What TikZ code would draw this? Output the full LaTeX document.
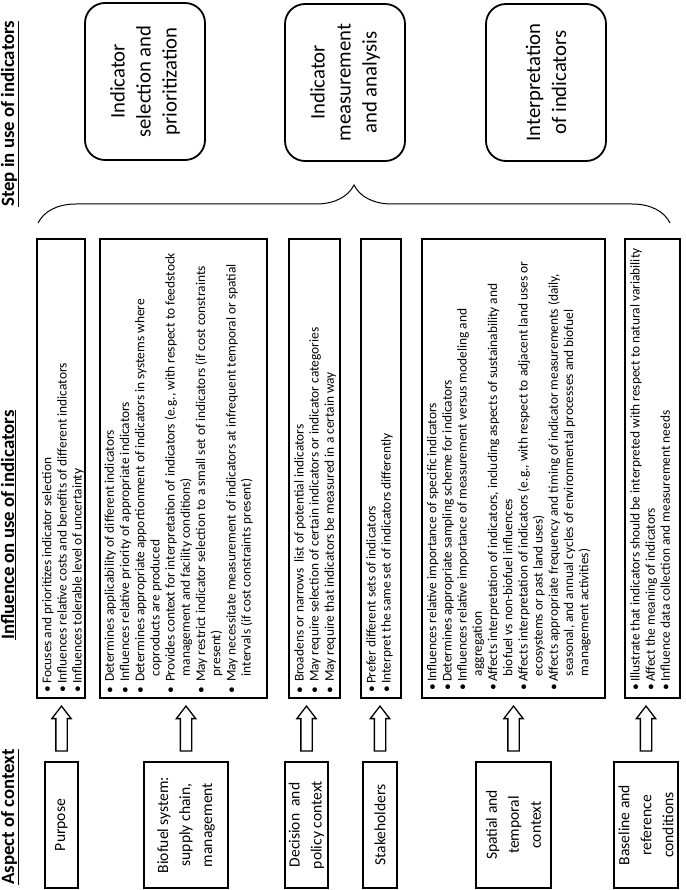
\documentclass[tikz,border=0pt]{standalone}
\usepackage{fontspec}
\setmainfont{Carlito}
\usetikzlibrary{shapes.arrows,decorations.pathreplacing}
\begin{document}
\begin{tikzpicture}[x=1pt,y=-1pt,
  title/.style={rotate=90,anchor=base west,inner sep=0pt,font=\fontsize{18.8}{22}\selectfont\bfseries},
  ctxbox/.style={draw,line width=2.6pt,rotate=90,inner sep=0pt,align=center,minimum width=126pt,font=\fontsize{15.6}{22}\selectfont},
  infbox/.style={draw,line width=2.6pt,inner sep=0pt,minimum height=459pt},
  inftext/.style={rotate=90,anchor=north west,inner sep=0pt,align=left,font=\fontsize{13.4}{15.2}\selectfont},
  stepbox/.style={draw,line width=1.8pt,rounded corners=20pt,rotate=90,inner sep=0pt,align=center,minimum width=157pt,minimum height=120pt,font=\fontsize{20.7}{26}\selectfont},
  hollowarrow/.style={draw,line width=1.3pt,single arrow,single arrow head extend=4pt,single arrow tip angle=75,minimum height=45pt,minimum width=18pt,inner sep=5pt,rotate=90,anchor=tail}]
\useasboundingbox (0,0) rectangle (685,890);

% titles
\node[title] (t1) at (14,885) {\underline{Aspect of context}};
\node[title] (t2) at (14,640) {\underline{Influence on use of indicators}};
\node[title] (t3) at (14,207) {\underline{Step in use of indicators}};

% step boxes
\node[stepbox] (s1) at (145,81.5) {Indicator\\selection and\\prioritization};
\node[stepbox] (s2) at (345,82.5) {Indicator\\measurement\\and analysis};
\node[stepbox] (s3) at (546,82.5) {Interpretation\\of indicators};

% brace
\draw[line width=1pt,decorate,decoration={brace,amplitude=38pt}] (38,223) -- (670,223);

% context boxes
\node[ctxbox,minimum height=33pt] (c1) at (61.5,825) {Purpose};
\node[ctxbox,minimum height=84pt] (c2) at (186,825) {Biofuel system:\\supply chain,\\management};
\node[ctxbox,minimum height=43pt] (c3) at (306.5,825) {Decision\ \ and\\policy context};
\node[ctxbox,minimum height=34pt] (c4) at (380,825) {Stakeholders};
\node[ctxbox,minimum height=75pt] (c5) at (513.5,825) {Spatial and\\temporal\\context};
\node[ctxbox,minimum height=64pt] (c6) at (646,825) {Baseline and\\reference\\conditions};

% influence boxes
\node[infbox,minimum width=48pt] (i1) at (61,468.5) {};
\node[infbox,minimum width=167pt] (i2) at (183.5,468.5) {};
\node[infbox,minimum width=51pt] (i3) at (314.5,468.5) {};
\node[infbox,minimum width=40pt] (i4) at (381,468.5) {};
\node[infbox,minimum width=183pt] (i5) at (513.5,468.5) {};
\node[infbox,minimum width=55pt] (i6) at (652.5,468.5) {};

% arrows
\foreach \c in {1,...,6}{
  \node[hollowarrow] (a\c) at ([yshift=9pt]c\c.east) {};
}

% influence texts
\node[inftext] (x1) at ([shift={(4.8,-7)}]i1.south west) {%
\strut\textbullet\hspace{1.5pt}Focuses and prioritizes indicator selection\\
\strut\textbullet\hspace{1.5pt}Influences relative costs and benefits of different indicators\\
\strut\textbullet\hspace{1.5pt}Influences tolerable level of uncertainty};

\node[inftext] (x2) at ([shift={(4.4,-6)}]i2.south west) {%
\strut\textbullet\hspace{4.5pt}Determines applicability of different indicators\\
\strut\textbullet\hspace{4.5pt}Influences relative priority of appropriate indicators\\
\strut\textbullet\hspace{4.5pt}Determines appropriate apportionment of indicators in systems where\\
\strut\hspace{17pt}coproducts are produced\\
\strut\textbullet\hspace{4.5pt}Provides context for interpretation of indicators (e.g., with respect to feedstock\\
\strut\hspace{17pt}management and facility conditions)\\
\strut\textbullet\hspace{4.5pt}May restrict indicator selection to a small set of indicators (if cost constraints\\
\strut\hspace{17pt}present)\\
\strut\textbullet\hspace{4.5pt}May necessitate measurement of indicators at infrequent temporal or spatial\\
\strut\hspace{17pt}intervals (if cost constraints present)};

\node[inftext] (x3) at ([shift={(5,-6)}]i3.south west) {%
\strut\textbullet\hspace{4.5pt}Broadens or narrows\ \ list of potential indicators\\
\strut\textbullet\hspace{4.5pt}May require selection of certain indicators or indicator categories\\
\strut\textbullet\hspace{4.5pt}May require that indicators be measured in a certain way};

\node[inftext] (x4) at ([shift={(5,-7)}]i4.south west) {%
\strut\textbullet\hspace{1.5pt}Prefer different sets of indicators\\
\strut\textbullet\hspace{1.5pt}Interpret the same set of indicators differently};

\node[inftext] (x5) at ([shift={(4.8,-9)}]i5.south west) {%
\strut\textbullet\hspace{1.5pt}Influences relative importance of specific indicators\\
\strut\textbullet\hspace{1.5pt}Determines appropriate sampling scheme for indicators\\
\strut\textbullet\hspace{1.5pt}Influences relative importance of measurement versus modeling and\\
\strut\hspace{14pt}aggregation\\
\strut\textbullet\hspace{1.5pt}Affects interpretation of indicators, including aspects of sustainability and\\
\strut\hspace{14pt}biofuel vs non-biofuel influences\\
\strut\textbullet\hspace{1.5pt}Affects interpretation of indicators (e.g., with respect to adjacent land uses or\\
\strut\hspace{14pt}ecosystems or past land uses)\\
\strut\textbullet\hspace{1.5pt}Affects appropriate frequency and timing of indicator measurements (daily,\\
\strut\hspace{14pt}seasonal, and annual cycles of environmental processes and biofuel\\
\strut\hspace{14pt}management activities)};

\node[inftext] (x6) at ([shift={(5,-9)}]i6.south west) {%
\strut\textbullet\hspace{1.5pt}Illustrate that indicators should be interpreted with respect to natural variability\\
\strut\textbullet\hspace{1.5pt}Affect the meaning of indicators\\
\strut\textbullet\hspace{1.5pt}Influence data collection and measurement needs};
\end{tikzpicture}
\end{document}
